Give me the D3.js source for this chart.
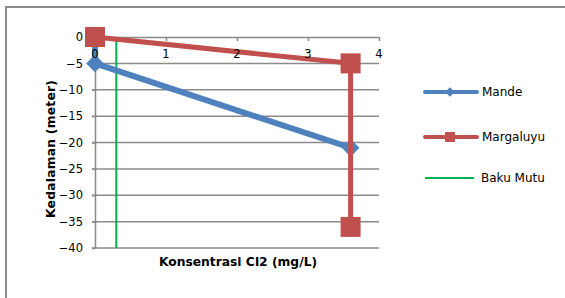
<!DOCTYPE html>
<html>
<head>
<meta charset="utf-8">
<script src="https://cdn.jsdelivr.net/npm/d3@7"></script>
<style>
body { margin: 0; background: #fff; }
svg { display: block; font-family: "DejaVu Sans", Verdana, sans-serif; }
</style>
</head>
<body>
<div id="graphic"></div>
<script>
// data
const mandeX = [0, 0, 3.6];
const mandeY = [0, -5, -21];
const margaluyuX = [0, 3.6, 3.6];
const margaluyuY = [0, -5, -36];
const bakuMutuX = [0.3, 0.3];
const bakuMutuY = [0, -40];
const xTicks = [0, 1, 2, 3, 4];
const yTicks = [0, -5, -10, -15, -20, -25, -30, -35, -40];
const seriesNames = ["Mande", "Margaluyu", "Baku Mutu"];

const W = 565, H = 298;
const BLUE = "#4f81bd", RED = "#c0504d", GREEN = "#00b050", GRID = "#8a8a8a";

var svg = d3.select("#graphic").append("svg")
    .attr("width", W).attr("height", H);

// outer chart frame (only top and left edges visible)
svg.append("path")
    .attr("d", `M6,${H} V7 H${W}`)
    .attr("fill", "none")
    .attr("stroke", "#8c8c8c")
    .attr("stroke-width", 2);

var x = d3.scaleLinear().domain([0, 4]).range([95, 379]);
var y = d3.scaleLinear().domain([0, -40]).range([37, 248]);

// horizontal gridlines
svg.append("g")
    .selectAll("line")
    .data(yTicks.filter(d => d != 0))
    .enter().append("line")
    .attr("x1", x(0) - 3).attr("x2", x(4))
    .attr("y1", d => y(d)).attr("y2", d => y(d))
    .attr("stroke", GRID).attr("stroke-width", 1.5);

// y axis
svg.append("g")
    .attr("transform", `translate(${x(0)},0)`)
    .call(d3.axisLeft(y).tickValues(yTicks).tickSize(3).tickPadding(9).tickSizeOuter(0))
    .call(g => g.select(".domain").attr("stroke", GRID).attr("stroke-width", 1.5))
    .call(g => g.selectAll(".tick line").attr("stroke", GRID).attr("stroke-width", 1.5))
    .call(g => g.selectAll(".tick text").attr("font-size", 11.5).attr("fill", "#000")
        .attr("font-family", "DejaVu Sans, sans-serif"));

// x axis at y = 0, ticks pointing down
svg.append("g")
    .attr("transform", `translate(0,${y(0)})`)
    .call(d3.axisBottom(x).tickValues(xTicks).tickSize(4).tickSizeOuter(0).tickFormat(d3.format("d")))
    .call(g => g.select(".domain").attr("stroke", GRID).attr("stroke-width", 1.5))
    .call(g => g.selectAll(".tick line").attr("stroke", GRID).attr("stroke-width", 1.5))
    .call(g => g.selectAll(".tick text").remove());

// Baku Mutu
var line = d3.line().x(d => x(d[0])).y(d => y(d[1]));
svg.append("path")
    .attr("d", line(d3.zip(bakuMutuX, bakuMutuY)))
    .attr("fill", "none").attr("stroke", GREEN).attr("stroke-width", 2);

// Mande
var mande = d3.zip(mandeX, mandeY);
svg.append("path")
    .attr("d", line(mande))
    .attr("fill", "none").attr("stroke", BLUE).attr("stroke-width", 6)
    .attr("stroke-linejoin", "round");
svg.append("g").selectAll("path")
    .data(mande).enter().append("path")
    .attr("d", d3.symbol(d3.symbolDiamond2, 200))
    .attr("transform", d => `translate(${x(d[0])},${y(d[1])})`)
    .attr("fill", BLUE);

// Margaluyu
var marg = d3.zip(margaluyuX, margaluyuY);
svg.append("path")
    .attr("d", line(marg))
    .attr("fill", "none").attr("stroke", RED).attr("stroke-width", 5);
svg.append("g").selectAll("rect")
    .data(marg).enter().append("rect")
    .attr("x", d => x(d[0]) - 10).attr("y", d => y(d[1]) - 10)
    .attr("width", 20).attr("height", 20)
    .attr("fill", RED);

// x tick labels drawn on top
svg.append("g").selectAll("text")
    .data(xTicks).enter().append("text")
    .attr("x", d => x(d)).attr("y", y(0) + 21)
    .attr("text-anchor", "middle")
    .attr("font-size", 11.5)
    .text(d => d);

// axis titles
svg.append("text")
    .attr("x", 238).attr("y", 266)
    .attr("text-anchor", "middle")
    .attr("font-size", 12.3).attr("font-weight", "bold")
    .text("Konsentrasi Cl2 (mg/L)");
svg.append("text")
    .attr("transform", "translate(55,149) rotate(-90)")
    .attr("text-anchor", "middle")
    .attr("font-size", 12.3).attr("font-weight", "bold")
    .attr("textLength", 138)
    .text("Kedalaman (meter)");

// legend
var legY = [92, 137, 178];
var leg = svg.append("g");
leg.append("line").attr("x1", 425).attr("x2", 477).attr("y1", legY[0]).attr("y2", legY[0])
    .attr("stroke", BLUE).attr("stroke-width", 4).attr("stroke-linecap", "round");
leg.append("path").attr("d", d3.symbol(d3.symbolDiamond2, 60))
    .attr("transform", `translate(450,${legY[0]})`).attr("fill", BLUE);
leg.append("line").attr("x1", 425).attr("x2", 477).attr("y1", legY[1]).attr("y2", legY[1])
    .attr("stroke", RED).attr("stroke-width", 4).attr("stroke-linecap", "round");
leg.append("rect").attr("x", 445).attr("y", legY[1] - 5).attr("width", 10).attr("height", 10)
    .attr("fill", RED);
leg.append("line").attr("x1", 425).attr("x2", 474).attr("y1", legY[2]).attr("y2", legY[2])
    .attr("stroke", GREEN).attr("stroke-width", 2);
leg.selectAll("text")
    .data(seriesNames).enter().append("text")
    .attr("x", (d, i) => i == 2 ? 481 : 482)
    .attr("y", (d, i) => legY[i])
    .attr("dy", "0.35em")
    .attr("font-size", 12)
    .text(d => d);
</script>
</body>
</html>
